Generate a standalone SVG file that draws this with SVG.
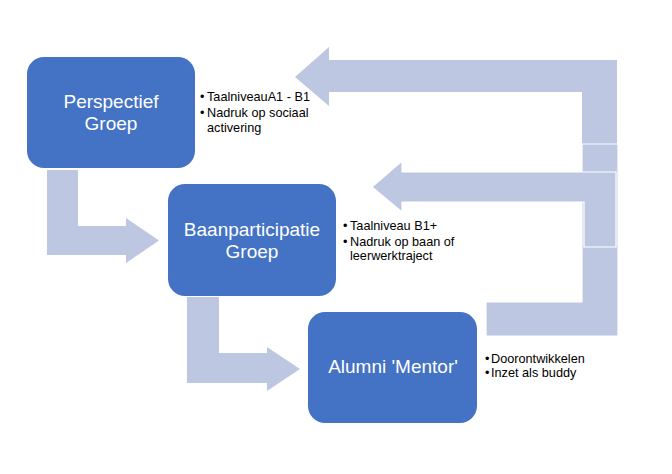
<svg xmlns="http://www.w3.org/2000/svg" width="672" height="474" viewBox="0 0 672 474">
<style>
.box{fill:#4472C4;}
.arr{fill:#BEC7E2;}
.arro{fill:#BEC7E2;stroke:#FFFFFF;stroke-width:1.2;}
.lbl{font-family:"Liberation Sans",Arial,sans-serif;font-size:19px;fill:#FFFFFF;text-anchor:middle;}
.bul{font-family:"Liberation Sans",Arial,sans-serif;font-size:12.7px;fill:#000000;}
</style>
<rect width="672" height="474" fill="#FFFFFF"/>
<g id="connectors">
<path class="arr" d="M47,170 H78 V226 H126 V218 L159,240.5 L126,263 V255 H47 Z"/>
<path class="arr" d="M187,297 H219 V353 H267 V347 L300,369 L267,391 V383 H187 Z"/>
<path class="arr" d="M617,60 V144 H582 V92 H329 V106 L295,77 L329,47 V60 Z"/>
<path class="arro" d="M486,302 H582 V144 H618 V336 H486 Z"/>
<path class="arro" d="M616,172 V247 H584 V202 H402 V212 L372,187 L402,161 V172 Z"/>
</g>
<g id="perspectief">
<rect class="box" x="27" y="57" width="168" height="111" rx="17"/>
<text class="lbl" x="111" y="108">Perspectief</text>
<text class="lbl" x="111" y="130">Groep</text>
<text class="bul" x="200" y="101">•</text>
<text class="bul" x="207" y="101">TaalniveauA1 - B1</text>
<text class="bul" x="200" y="117">•</text>
<text class="bul" x="207" y="117">Nadruk op sociaal</text>
<text class="bul" x="207" y="132">activering</text>
</g>
<g id="baanparticipatie">
<rect class="box" x="168" y="184" width="168" height="112" rx="17"/>
<text class="lbl" x="252" y="236">Baanparticipatie</text>
<text class="lbl" x="252" y="258">Groep</text>
<text class="bul" x="343" y="230">•</text>
<text class="bul" x="350" y="230">Taalniveau B1+</text>
<text class="bul" x="343" y="246">•</text>
<text class="bul" x="350" y="246">Nadruk op baan of</text>
<text class="bul" x="350" y="260">leerwerktraject</text>
</g>
<g id="alumni">
<rect class="box" x="308" y="312" width="169" height="111" rx="17"/>
<text class="lbl" x="393" y="373">Alumni 'Mentor'</text>
<text class="bul" x="485" y="363">•</text>
<text class="bul" x="491" y="363">Doorontwikkelen</text>
<text class="bul" x="485" y="377">•</text>
<text class="bul" x="491" y="377">Inzet als buddy</text>
</g>
</svg>
